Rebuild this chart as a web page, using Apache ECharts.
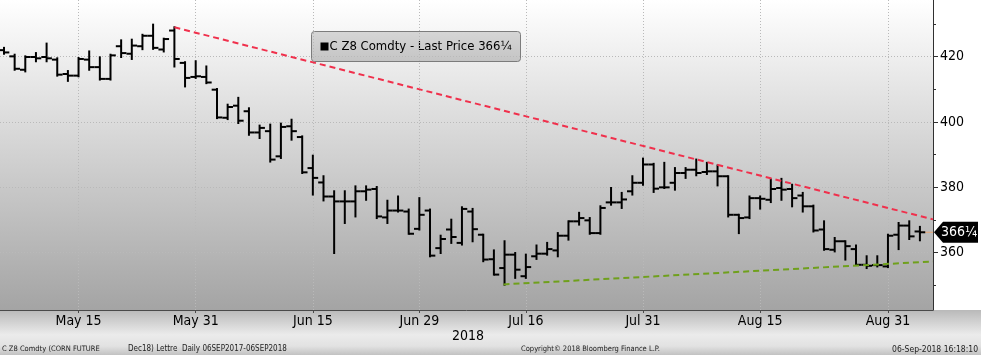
<!DOCTYPE html>
<html><head><meta charset="utf-8">
<script src="https://cdn.jsdelivr.net/npm/echarts@6/dist/echarts.min.js"></script>
<style>html,body{margin:0;padding:0;background:#fff}#c{width:981px;height:355px}</style>
</head><body><div id="c"></div>
<script>
// ---- data (trading days, C Z8 Comdty, OHLC) ----
const dates = ['May 4','May 7','May 8','May 9','May 10','May 11','May 14','May 15','May 16','May 17','May 18',
 'May 21','May 22','May 23','May 24','May 25','May 29','May 30','May 31','Jun 1','Jun 4','Jun 5','Jun 6','Jun 7','Jun 8',
 'Jun 11','Jun 12','Jun 13','Jun 14','Jun 15','Jun 18','Jun 19','Jun 20','Jun 21','Jun 22','Jun 25','Jun 26','Jun 27','Jun 28','Jun 29',
 'Jul 2','Jul 3','Jul 5','Jul 6','Jul 9','Jul 10','Jul 11','Jul 12','Jul 13','Jul 16','Jul 17','Jul 18','Jul 19','Jul 20',
 'Jul 23','Jul 24','Jul 25','Jul 26','Jul 27','Jul 30','Jul 31','Aug 1','Aug 2','Aug 3','Aug 6','Aug 7','Aug 8','Aug 9','Aug 10',
 'Aug 13','Aug 14','Aug 15','Aug 16','Aug 17','Aug 20','Aug 21','Aug 22','Aug 23','Aug 24','Aug 27','Aug 28','Aug 29','Aug 30','Aug 31',
 'Sep 4','Sep 5','Sep 6'];
const openP  = [422.0,420.1,416.0,419.9,419.9,419.1,414.7,414.2,419.1,416.8,413.2,423.2,420.9,423.2,426.4,422.2,428.0,418.1,413.8,413.8,
 409.9,401.3,405.0,403.3,396.8,397.2,389.5,398.7,395.4,385.9,381.5,377.2,375.7,375.7,378.8,379.5,370.8,372.9,372.6,367.3,
 372.9,361.4,367.1,363.0,372.6,365.5,358.0,355.3,359.4,352.8,358.9,359.7,360.7,365.2,369.6,369.9,366.0,375.4,375.4,378.8,
 381.4,387.0,380.0,381.4,384.4,385.4,384.7,384.9,383.4,371.6,370.8,376.7,376.2,379.8,379.5,377.5,374.2,367.1,360.9,363.5,
 361.1,356.3,356.2,355.8,365.5,368.3,366.5];
const highP  = [422.7,420.6,420.1,421.1,424.0,419.5,415.6,419.6,421.6,419.8,420.6,425.0,425.2,426.7,429.8,425.5,429.0,418.3,418.6,417.0,
 410.1,405.3,407.4,404.2,398.9,399.2,399.5,400.7,395.6,389.7,383.4,378.8,378.8,380.3,380.3,380.1,375.9,377.2,373.2,376.7,
 373.2,365.2,370.1,373.9,373.4,365.5,360.7,363.5,359.9,359.4,362.2,363.0,366.0,369.6,372.2,370.6,374.2,379.8,378.3,383.4,
 388.8,387.2,387.5,385.9,385.9,388.5,387.5,386.7,383.4,371.6,377.2,377.2,382.4,382.6,380.8,378.3,374.4,369.6,364.5,363.5,
 362.2,358.9,358.9,365.5,369.1,369.6,367.9];
const lowP   = [420.9,416.0,415.5,418.6,418.6,414.2,412.6,414.0,416.0,413.0,413.0,419.9,419.3,422.3,422.4,421.6,417.0,410.9,413.5,411.9,
 401.2,400.9,399.7,396.1,395.1,387.9,389.0,394.6,384.4,377.8,376.0,359.9,369.1,371.1,376.2,370.6,369.1,372.6,365.8,367.1,
 358.9,359.9,363.0,362.5,363.5,357.4,353.3,350.2,352.3,352.3,358.1,359.4,358.9,364.0,368.6,365.8,365.8,374.7,373.7,377.8,
 380.8,378.6,379.8,379.3,382.9,383.7,384.1,380.6,371.1,366.0,370.6,373.5,375.5,376.2,374.2,372.6,366.5,360.9,360.4,357.9,
 356.3,355.3,355.8,355.6,361.1,364.2,363.8];
const closeP = [421.3,416.3,419.9,419.5,419.5,414.5,414.2,419.3,416.8,413.2,420.4,421.1,423.4,426.4,422.7,425.4,419.3,413.5,414.0,412.1,
 401.4,404.6,400.4,396.8,398.2,388.5,398.5,397.2,384.6,382.9,377.2,375.7,375.7,378.8,379.3,371.1,372.9,372.9,365.8,371.6,
 359.1,364.2,364.8,373.4,367.2,357.9,353.3,359.4,354.8,355.6,359.7,361.1,365.2,369.6,370.6,366.0,373.7,375.4,376.3,381.4,
 387.0,379.6,380.0,384.4,385.4,384.4,384.9,383.4,371.6,370.6,376.7,376.5,379.5,379.3,376.7,374.2,366.8,361.1,363.5,362.0,
 356.3,356.0,356.2,365.2,368.3,365.0,366.25];
const tickLabels = ['May 15','May 31','Jun 15','Jun 29','Jul 16','Jul 31','Aug 15','Aug 31'];
const yLabels = [360,380,400,420];
const yMinorTicks = [350,370,390,410,430];
// trend lines: [day index, price]
const resistance = [[16,429.0],[87.23,370.2]];
const support = [[46.9,350.3],[87.23,357.3]];
const lastPrice = 366.25;
const lastPriceText = '366¼';
const legendText = 'C Z8 Comdty - Last Price 366¼';

// ---- chart ----
const FONT = "'DejaVu Sans Condensed', 'DejaVu Sans', sans-serif";
const xMin = -0.375, xMax = 87.23;
const yMin = 342.46, yMax = 437.35;
const tickIdx = tickLabels.map(l => dates.indexOf(l));
const ohlc = dates.map((d, i) => [i, openP[i], highP[i], lowP[i], closeP[i]]);

const chart = echarts.init(document.getElementById('c'), null, {renderer: 'canvas'});
chart.setOption({
  animation: false,
  backgroundColor: '#ffffff',
  grid: {
    left: 0, right: 48, top: 0, bottom: 45, show: true, borderWidth: 0,
    backgroundColor: {type: 'linear', x: 0, y: 0, x2: 0, y2: 1,
      colorStops: [{offset: 0, color: '#ffffff'}, {offset: 1, color: '#a4a4a4'}]}
  },
  xAxis: {
    type: 'value', min: xMin, max: xMax,
    axisLine: {show: true, onZero: false, lineStyle: {color: '#4a4a4a', width: 1}},
    axisTick: {show: true, customValues: tickIdx, length: 3, lineStyle: {color: '#4a4a4a'}},
    axisLabel: {customValues: tickIdx, formatter: v => dates[Math.round(v)], color: '#000',
      fontFamily: FONT, fontSize: 14, margin: 4},
    splitLine: {show: false}
  },
  yAxis: [{
    type: 'value', position: 'right', min: yMin, max: yMax,
    axisLine: {show: true, onZero: false, lineStyle: {color: '#303030', width: 1}},
    axisTick: {show: true, customValues: yLabels, length: 5, lineStyle: {color: '#303030'}},
    axisLabel: {customValues: yLabels, color: '#000', fontFamily: FONT, fontSize: 14, margin: 7},
    splitLine: {show: false}
  }, {
    type: 'value', position: 'right', offset: 0, min: yMin, max: yMax,
    axisLine: {show: false, onZero: false},
    axisTick: {show: true, customValues: yMinorTicks, length: 3, lineStyle: {color: '#303030'}},
    axisLabel: {show: false},
    splitLine: {show: false}
  }],
  series: [
    { // gridlines
      type: 'line', data: [], silent: true,
      markLine: {
        silent: true, symbol: 'none', label: {show: false},
        lineStyle: {color: '#b9b9b9', type: [1, 2], width: 1},
        data: yLabels.map(v => ({yAxis: v})).concat(tickIdx.map(v => ({xAxis: v})))
      }
    },
    {
      type: 'custom', clip: true, z: 5,
      data: ohlc,
      encode: {x: 0, y: [1, 2, 3, 4]},
      renderItem: function (params, api) {
        const x = api.value(0);
        const o = api.coord([x, api.value(1)]);
        const h = api.coord([x, api.value(2)]);
        const l = api.coord([x, api.value(3)]);
        const c = api.coord([x, api.value(4)]);
        const w = api.size([1, 0])[0] * 0.5;
        const st = {stroke: '#000', lineWidth: 2};
        return {type: 'group', children: [
          {type: 'line', shape: {x1: h[0], y1: h[1] - 1, x2: l[0], y2: l[1] + 1}, style: st},
          {type: 'line', shape: {x1: o[0] - w, y1: o[1], x2: o[0], y2: o[1]}, style: st},
          {type: 'line', shape: {x1: c[0], y1: c[1], x2: c[0] + w, y2: c[1]}, style: st}
        ]};
      }
    },
    {
      type: 'line', data: resistance, symbol: 'none', z: 6,
      lineStyle: {color: '#f0304c', width: 2, type: [6, 4]}
    },
    {
      type: 'line', data: support, symbol: 'none', z: 6,
      lineStyle: {color: '#6fa01c', width: 2, type: [6, 4]}
    },
    {
      type: 'line', data: [[dates.length - 1, lastPrice], [xMax, lastPrice]], symbol: 'none', z: 4,
      lineStyle: {color: '#e8a878', width: 1},
      markPoint: {
        silent: true,
        data: [{
          coord: [xMax, lastPrice],
          symbol: 'path://M0,10.5 L9,0 L44,0 L44,21 L9,21 Z',
          symbolSize: [44, 21], symbolKeepAspect: false, symbolOffset: [23, 0],
          itemStyle: {color: '#000'},
          label: {show: true, position: 'inside', offset: [3, 0], formatter: lastPriceText,
            color: '#fff', fontFamily: FONT, fontSize: 14}
        }]
      }
    }
  ],
  graphic: [
    {type: 'rect', z: -10, silent: true, shape: {x: 0, y: 310, width: 981, height: 45},
      style: {fill: {type: 'linear', x: 0, y: 0, x2: 0, y2: 1,
        colorStops: [{offset: 0, color: '#b9b9b9'}, {offset: 0.55, color: '#ebebeb'},
                     {offset: 0.8, color: '#e2e2e2'}, {offset: 1, color: '#c2c2c2'}]}}},
    {type: 'group', left: 311, top: 31, z: 20, children: [
      {type: 'rect', shape: {x: 0, y: 0, width: 209, height: 30, r: 3},
        style: {fill: {type: 'linear', x: 0, y: 0, x2: 0, y2: 1,
          colorStops: [{offset: 0, color: '#d6d6d6'}, {offset: 1, color: '#c4c4c4'}]},
          stroke: '#7c7c7c', lineWidth: 1}},
      {type: 'rect', shape: {x: 9, y: 11, width: 8, height: 8}, style: {fill: '#000'}},
      {type: 'text', x: 18, y: 15, style: {text: legendText, fill: '#000', font: '13px ' + FONT,
        verticalAlign: 'middle'}}
    ]},
    {type: 'text', left: 452, top: 329, style: {text: '2018', fill: '#000', font: '14px ' + FONT}},
    {type: 'text', left: 2, top: 345, style: {text: 'C Z8 Comdty (CORN FUTURE', fill: '#222', font: '7.5px ' + FONT}},
    {type: 'text', left: 128, top: 345, style: {text: 'Dec18) Lettre  Daily 06SEP2017-06SEP2018', fill: '#222', font: '8px ' + FONT}},
    {type: 'text', left: 521, top: 345, style: {text: 'Copyright© 2018 Bloomberg Finance L.P.', fill: '#222', font: '7.5px ' + FONT}},
    {type: 'text', right: 3, top: 345, style: {text: '06-Sep-2018 16:18:10', fill: '#222', font: '8.5px ' + FONT}}
  ]
});
</script>
</body></html>
